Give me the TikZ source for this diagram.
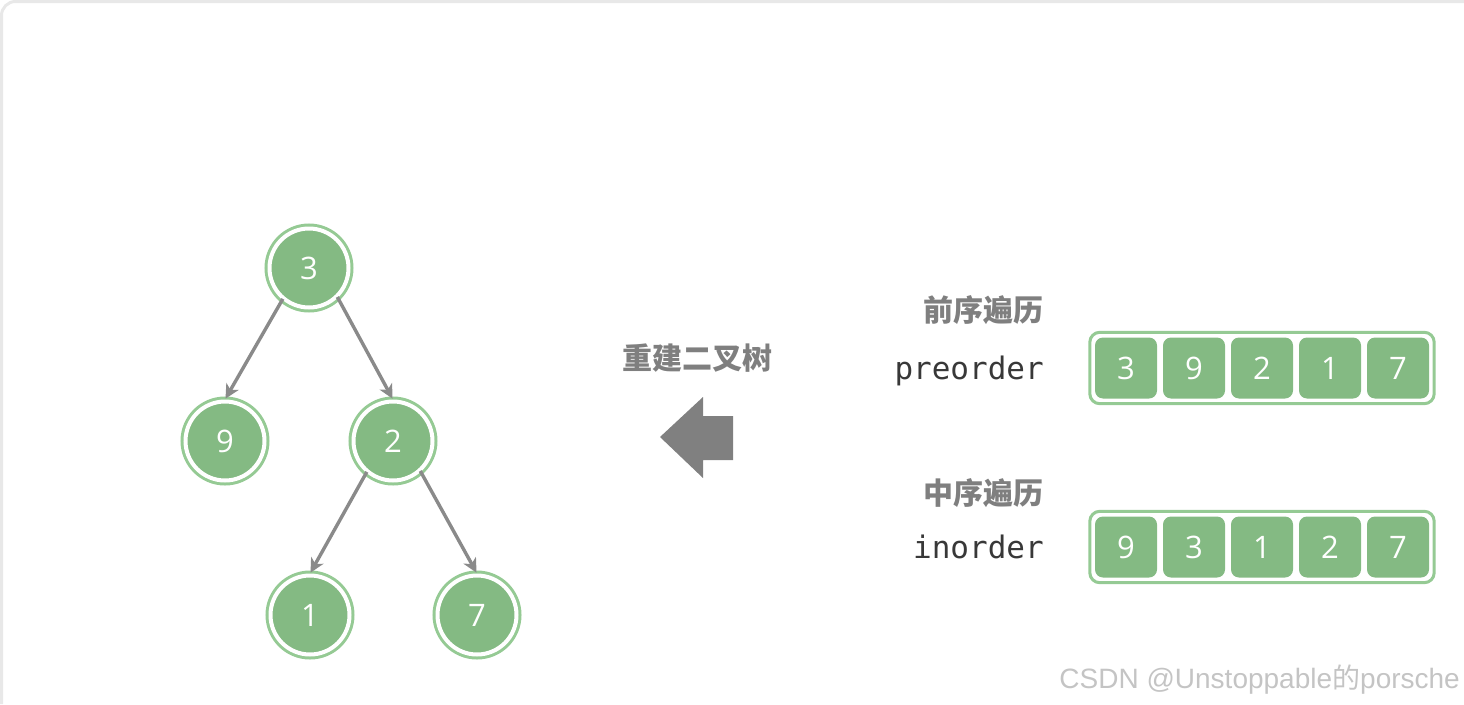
\documentclass[tikz,border=0pt]{standalone}
\usepackage{fontspec}
\setmainfont{Open Sans}
\setmonofont{DejaVu Sans Mono}
\newfontfamily\cjkfont{Noto Sans CJK SC}
\newfontfamily\markfont{Liberation Sans}
\usetikzlibrary{arrows.meta,fit,positioning,calc}
\definecolor{nodegreen}{HTML}{84BA83}
\definecolor{ringgreen}{HTML}{95CA94}
\definecolor{edgegray}{HTML}{8A8A8A}
\definecolor{arrowgray}{HTML}{808080}
\definecolor{labelgray}{HTML}{7F7F7F}
\definecolor{codegray}{HTML}{383838}
\definecolor{markgray}{HTML}{C4C4C4}

\begin{document}
\begin{tikzpicture}[
  x=1pt, y=1pt,
  treenode/.style={circle, minimum size=79pt, inner sep=0pt, outer sep=2pt, fill=nodegreen, draw=white, line width=4pt,
    preaction={draw=ringgreen, fill=nodegreen, line width=10pt},
    text=white, font=\fontsize{31}{34}\selectfont},
  cell/.style={rounded corners=8pt, minimum width=62pt, minimum height=61pt, inner sep=0pt,
    fill=nodegreen, text=white, font=\fontsize{31}{34}\selectfont},
  frame/.style={draw=ringgreen, line width=3pt, rounded corners=10pt, inner sep=5pt},
  edge/.style={-{Stealth[length=14pt, width=14pt, inset=4pt]}, line width=3.4pt, draw=edgegray,
    shorten <=-1pt, shorten >=1pt},
  title/.style={font=\cjkfont\bfseries\fontsize{30}{33}\selectfont, text=labelgray, inner sep=0pt},
  code/.style={font=\ttfamily\fontsize{31}{34}\selectfont, text=codegray, inner sep=0pt}
]
\useasboundingbox (0,0) rectangle (1464,-704);
\draw[black!9, line width=3pt, rounded corners=14pt] (1.5,-704) |- (1464,-1.5);

\node[treenode] (n3) at (309,-268) {3};
\node[treenode] (n9) at (225,-441) {9};
\node[treenode] (n2) at (393,-441) {2};
\node[treenode] (n1) at (310,-615) {1};
\node[treenode] (n7) at (477,-615) {7};

\draw[edge] (n3.230) -- (n9.north);
\draw[edge] (n3.314) -- (n2.north);
\draw[edge] (n2.230) -- (n1.north);
\draw[edge] (n2.312) -- (n7.north);

\node[title] (rebuild) at (697,-358) {重建二叉树};
\fill[arrowgray] (660,-437) -- (703,-397) -- (703,-416) -- (733,-416)
  -- (733,-460) -- (703,-460) -- (703,-478) -- cycle;

\foreach \v [count=\i] in {3,9,2,1,7}
  \node[cell] (pre\i) at ({1058+68*\i},-368) {\v};
\node[frame, fit=(pre1)(pre5)] (preframe) {};
\node[code, anchor=base east] (prelbl) at (1044,-379) {preorder};
\node[title, anchor=east] (pretitle) at (1044,-310) {前序遍历};

\foreach \v [count=\i] in {9,3,1,2,7}
  \node[cell] (in\i) at ({1058+68*\i},-547) {\v};
\node[frame, fit=(in1)(in5)] (inframe) {};
\node[code, anchor=base east] (inlbl) at (1044,-558) {inorder};
\node[title, anchor=east] (intitle) at (1044,-493) {中序遍历};

\node[anchor=base east, inner sep=0pt, text=markgray, font=\markfont\fontsize{28}{31}\selectfont]
  (mark) at (1460,-688) {CSDN @Unstoppable{\cjkfont 的}porsche};
\end{tikzpicture}
\end{document}
